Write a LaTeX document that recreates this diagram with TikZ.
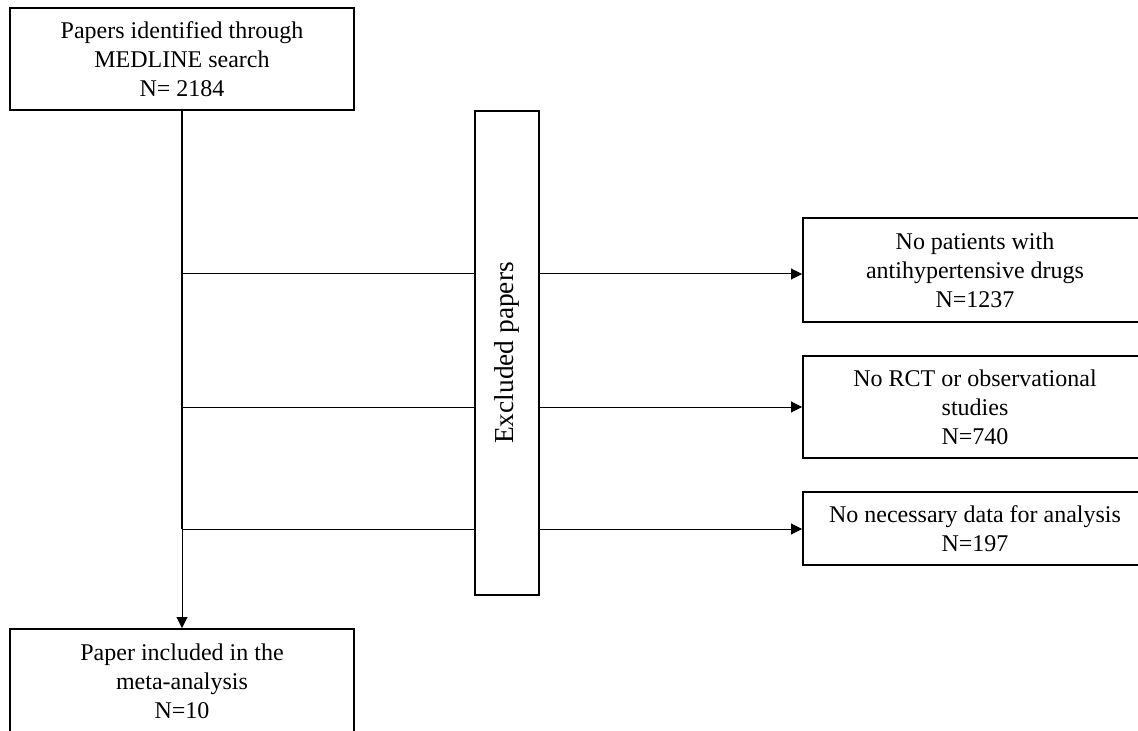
\documentclass[tikz,border=0pt]{standalone}
\usepackage{fontspec}
\setmainfont{Liberation Serif}
\usepackage{graphicx}
\usetikzlibrary{arrows.meta, positioning, calc}

\tikzset{
  box/.style={draw, line width=1pt, minimum width=172pt, inner sep=0pt, align=center, font=\fontsize{12}{14.4}\selectfont},
  link/.style={line width=0.5pt},
  arr/.style={line width=0.5pt, -{Triangle[length=5.5pt, width=5.5pt]}},
}

\begin{document}
\begin{tikzpicture}[x=0.5pt, y=-0.5pt]
  \clip (0,0) rectangle (1138,731);
  % main column
  \node[box, minimum height=51pt] (search) at (182,59) {Papers identified through\\MEDLINE search\\N= 2184};
  \node[box, minimum height=52pt] (incl) at (182,681) {Paper included in the\\meta-analysis\\N=10};
  % excluded papers
  \node[draw, line width=0.75pt, minimum width=32pt, minimum height=242pt, inner sep=0pt, font=\fontsize{13.7}{16}\selectfont] (excl) at (507,353) {\rotatebox{90}{Excluded papers}};
  \node[box, minimum height=52pt] (r1) at (975,270) {No patients with\\antihypertensive drugs\\N=1237};
  \node[box, minimum height=51pt] (r2) at (975,407) {No RCT or observational\\studies\\N=740};
  \node[box, minimum height=36.5pt] (r3) at (975,528.5) {No necessary data for analysis\\N=197};
  % branch points
  \coordinate (b1) at (182,274);
  \coordinate (b2) at (182,407);
  \coordinate (b3) at (182,529);
  \draw[line width=1.3pt] (search.south) -- (b3);
  \draw[arr] (b3) -- (incl.north);
  \foreach \b/\r in {b1/r1, b2/r2, b3/r3} {
    \draw[link] (\b) -- (\b -| excl.west);
    \draw[arr] (\b -| excl.east) -- (\b -| \r.west);
  }
\end{tikzpicture}
\end{document}
